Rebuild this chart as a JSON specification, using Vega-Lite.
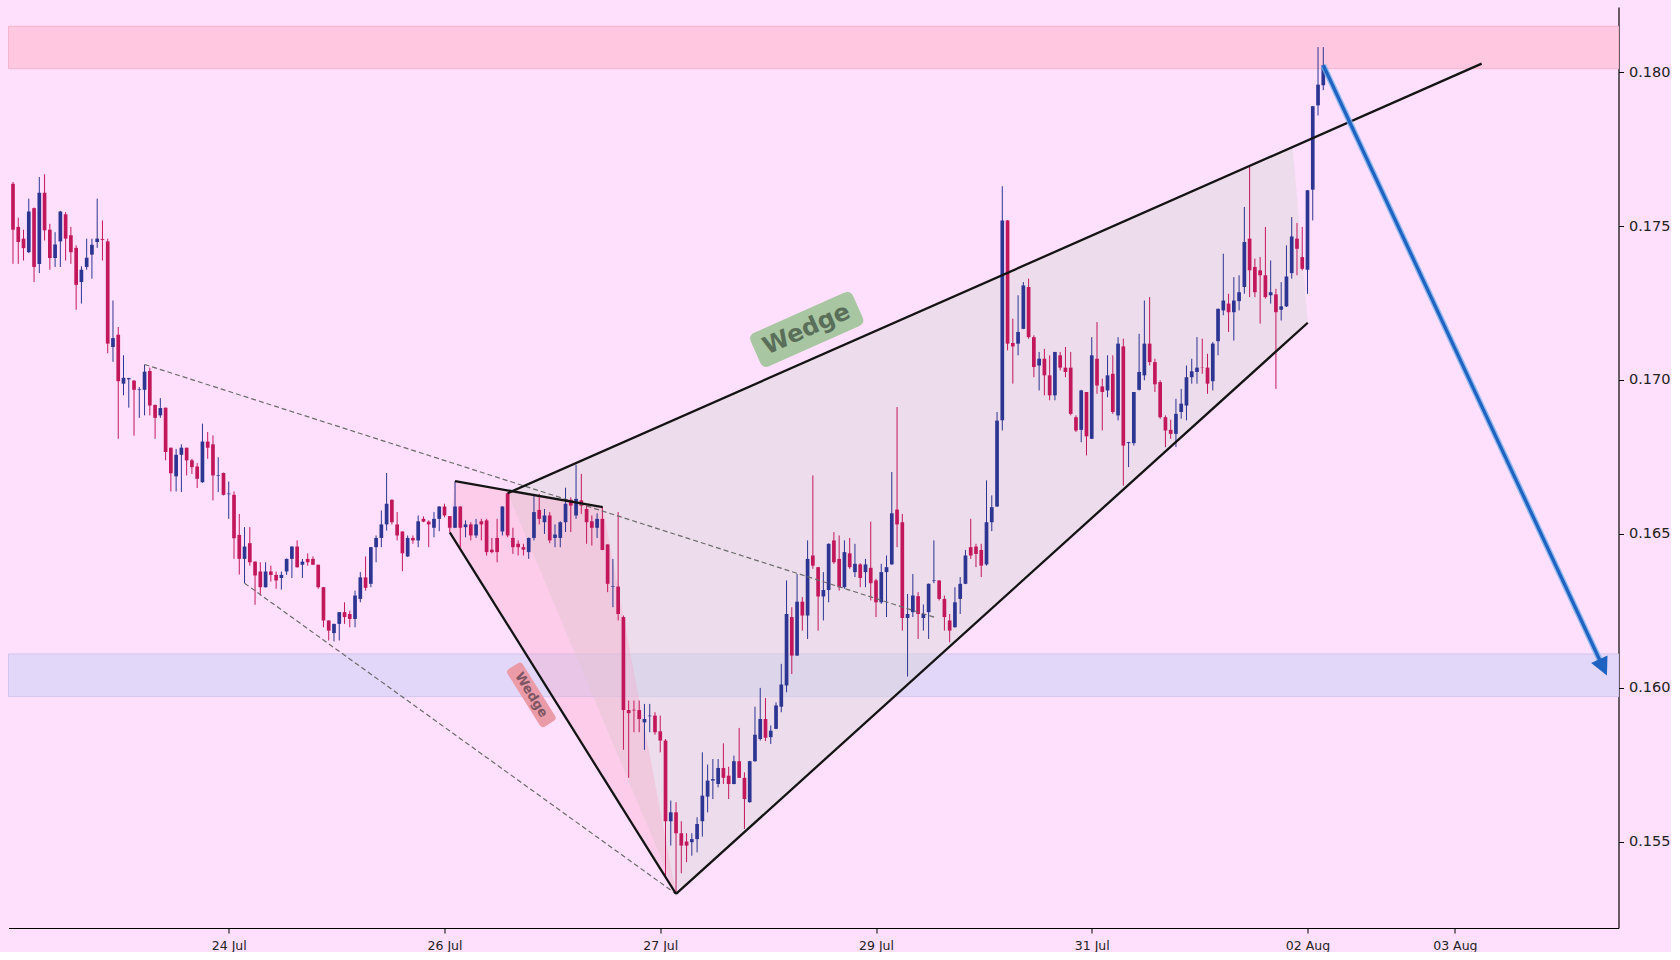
{
  "$schema": "https://vega.github.io/schema/vega-lite/v6.json",
  "width": 1610,
  "height": 921,
  "padding": {"left": 7.5, "top": 7, "right": 0, "bottom": 0},
  "background": "#ffe0fc",
  "config": {"view": {"stroke": null}},
  "datasets": {
    "candles": [
      {"i":0,"o":0.17637,"h":0.17643,"l":0.17377,"c":0.17488},
      {"i":1,"o":0.17497,"h":0.17527,"l":0.17377,"c":0.17448},
      {"i":2,"o":0.17459,"h":0.17488,"l":0.17388,"c":0.17428},
      {"i":3,"o":0.17415,"h":0.17589,"l":0.17412,"c":0.17547},
      {"i":4,"o":0.17558,"h":0.17560,"l":0.17318,"c":0.17367},
      {"i":5,"o":0.17377,"h":0.17659,"l":0.17347,"c":0.17608},
      {"i":6,"o":0.17608,"h":0.17668,"l":0.17453,"c":0.17486},
      {"i":7,"o":0.17488,"h":0.17507,"l":0.17358,"c":0.17396},
      {"i":8,"o":0.17396,"h":0.17480,"l":0.17367,"c":0.17440},
      {"i":9,"o":0.17450,"h":0.17549,"l":0.17367,"c":0.17547},
      {"i":10,"o":0.17538,"h":0.17545,"l":0.17388,"c":0.17459},
      {"i":11,"o":0.17470,"h":0.17497,"l":0.17377,"c":0.17415},
      {"i":12,"o":0.17429,"h":0.17437,"l":0.17228,"c":0.17309},
      {"i":13,"o":0.17318,"h":0.17369,"l":0.17248,"c":0.17358},
      {"i":14,"o":0.17367,"h":0.17459,"l":0.17358,"c":0.17397},
      {"i":15,"o":0.17407,"h":0.17459,"l":0.17329,"c":0.17439},
      {"i":16,"o":0.17448,"h":0.17589,"l":0.17429,"c":0.17459},
      {"i":17,"o":0.17458,"h":0.17518,"l":0.17388,"c":0.17455},
      {"i":18,"o":0.17450,"h":0.17459,"l":0.17087,"c":0.17118},
      {"i":19,"o":0.17107,"h":0.17258,"l":0.17059,"c":0.17136},
      {"i":20,"o":0.17147,"h":0.17172,"l":0.16809,"c":0.16996},
      {"i":21,"o":0.16988,"h":0.17080,"l":0.16950,"c":0.17007},
      {"i":22,"o":0.17002,"h":0.17007,"l":0.16910,"c":0.17006},
      {"i":23,"o":0.16998,"h":0.16999,"l":0.16819,"c":0.16968},
      {"i":24,"o":0.16968,"h":0.16977,"l":0.16877,"c":0.16970},
      {"i":25,"o":0.16968,"h":0.17050,"l":0.16885,"c":0.17027},
      {"i":26,"o":0.17029,"h":0.17040,"l":0.16885,"c":0.16917},
      {"i":27,"o":0.16919,"h":0.16920,"l":0.16809,"c":0.16877},
      {"i":28,"o":0.16885,"h":0.16941,"l":0.16877,"c":0.16909},
      {"i":29,"o":0.16910,"h":0.16910,"l":0.16739,"c":0.16766},
      {"i":30,"o":0.16780,"h":0.16780,"l":0.16638,"c":0.16697},
      {"i":31,"o":0.16687,"h":0.16776,"l":0.16638,"c":0.16757},
      {"i":32,"o":0.16757,"h":0.16791,"l":0.16636,"c":0.16780},
      {"i":33,"o":0.16780,"h":0.16780,"l":0.16690,"c":0.16739},
      {"i":34,"o":0.16739,"h":0.16744,"l":0.16695,"c":0.16717},
      {"i":35,"o":0.16719,"h":0.16730,"l":0.16649,"c":0.16679},
      {"i":36,"o":0.16668,"h":0.16858,"l":0.16666,"c":0.16800},
      {"i":37,"o":0.16800,"h":0.16831,"l":0.16744,"c":0.16780},
      {"i":38,"o":0.16791,"h":0.16820,"l":0.16609,"c":0.16690},
      {"i":39,"o":0.16689,"h":0.16749,"l":0.16636,"c":0.16691},
      {"i":40,"o":0.16698,"h":0.16699,"l":0.16625,"c":0.16627},
      {"i":41,"o":0.16629,"h":0.16670,"l":0.16549,"c":0.16631},
      {"i":42,"o":0.16627,"h":0.16638,"l":0.16419,"c":0.16486},
      {"i":43,"o":0.16497,"h":0.16565,"l":0.16368,"c":0.16419},
      {"i":44,"o":0.16419,"h":0.16522,"l":0.16340,"c":0.16459},
      {"i":45,"o":0.16470,"h":0.16522,"l":0.16397,"c":0.16408},
      {"i":46,"o":0.16410,"h":0.16411,"l":0.16270,"c":0.16365},
      {"i":47,"o":0.16378,"h":0.16408,"l":0.16300,"c":0.16327},
      {"i":48,"o":0.16327,"h":0.16408,"l":0.16326,"c":0.16378},
      {"i":49,"o":0.16378,"h":0.16397,"l":0.16345,"c":0.16367},
      {"i":50,"o":0.16367,"h":0.16378,"l":0.16322,"c":0.16349},
      {"i":51,"o":0.16357,"h":0.16378,"l":0.16319,"c":0.16367},
      {"i":52,"o":0.16378,"h":0.16420,"l":0.16367,"c":0.16419},
      {"i":53,"o":0.16419,"h":0.16460,"l":0.16357,"c":0.16459},
      {"i":54,"o":0.16459,"h":0.16479,"l":0.16390,"c":0.16392},
      {"i":55,"o":0.16400,"h":0.16419,"l":0.16357,"c":0.16410},
      {"i":56,"o":0.16419,"h":0.16437,"l":0.16397,"c":0.16408},
      {"i":57,"o":0.16419,"h":0.16427,"l":0.16399,"c":0.16400},
      {"i":58,"o":0.16400,"h":0.16400,"l":0.16322,"c":0.16327},
      {"i":59,"o":0.16327,"h":0.16327,"l":0.16197,"c":0.16219},
      {"i":60,"o":0.16219,"h":0.16219,"l":0.16154,"c":0.16186},
      {"i":61,"o":0.16178,"h":0.16208,"l":0.16151,"c":0.16208},
      {"i":62,"o":0.16208,"h":0.16246,"l":0.16154,"c":0.16246},
      {"i":63,"o":0.16246,"h":0.16278,"l":0.16208,"c":0.16230},
      {"i":64,"o":0.16240,"h":0.16251,"l":0.16197,"c":0.16224},
      {"i":65,"o":0.16224,"h":0.16316,"l":0.16197,"c":0.16300},
      {"i":66,"o":0.16289,"h":0.16376,"l":0.16278,"c":0.16359},
      {"i":67,"o":0.16359,"h":0.16427,"l":0.16316,"c":0.16325},
      {"i":68,"o":0.16338,"h":0.16458,"l":0.16327,"c":0.16457},
      {"i":69,"o":0.16457,"h":0.16495,"l":0.16408,"c":0.16487},
      {"i":70,"o":0.16487,"h":0.16576,"l":0.16457,"c":0.16531},
      {"i":71,"o":0.16531,"h":0.16698,"l":0.16511,"c":0.16598},
      {"i":72,"o":0.16611,"h":0.16612,"l":0.16531,"c":0.16538},
      {"i":73,"o":0.16531,"h":0.16571,"l":0.16479,"c":0.16495},
      {"i":74,"o":0.16508,"h":0.16508,"l":0.16379,"c":0.16437},
      {"i":75,"o":0.16427,"h":0.16495,"l":0.16425,"c":0.16487},
      {"i":76,"o":0.16487,"h":0.16495,"l":0.16468,"c":0.16479},
      {"i":77,"o":0.16479,"h":0.16560,"l":0.16457,"c":0.16541},
      {"i":78,"o":0.16549,"h":0.16557,"l":0.16538,"c":0.16540},
      {"i":79,"o":0.16540,"h":0.16544,"l":0.16457,"c":0.16531},
      {"i":80,"o":0.16520,"h":0.16571,"l":0.16489,"c":0.16549},
      {"i":81,"o":0.16549,"h":0.16590,"l":0.16509,"c":0.16589},
      {"i":82,"o":0.16589,"h":0.16598,"l":0.16554,"c":0.16560},
      {"i":83,"o":0.16558,"h":0.16558,"l":0.16506,"c":0.16520},
      {"i":84,"o":0.16520,"h":0.16671,"l":0.16519,"c":0.16589},
      {"i":85,"o":0.16589,"h":0.16590,"l":0.16457,"c":0.16520},
      {"i":86,"o":0.16522,"h":0.16544,"l":0.16489,"c":0.16531},
      {"i":87,"o":0.16531,"h":0.16538,"l":0.16479,"c":0.16495},
      {"i":88,"o":0.16495,"h":0.16549,"l":0.16487,"c":0.16531},
      {"i":89,"o":0.16541,"h":0.16549,"l":0.16479,"c":0.16531},
      {"i":90,"o":0.16544,"h":0.16549,"l":0.16430,"c":0.16441},
      {"i":91,"o":0.16449,"h":0.16487,"l":0.16437,"c":0.16441},
      {"i":92,"o":0.16487,"h":0.16549,"l":0.16408,"c":0.16441},
      {"i":93,"o":0.16508,"h":0.16590,"l":0.16495,"c":0.16589},
      {"i":94,"o":0.16632,"h":0.16633,"l":0.16489,"c":0.16495},
      {"i":95,"o":0.16487,"h":0.16520,"l":0.16435,"c":0.16457},
      {"i":96,"o":0.16468,"h":0.16479,"l":0.16430,"c":0.16457},
      {"i":97,"o":0.16457,"h":0.16468,"l":0.16430,"c":0.16449},
      {"i":98,"o":0.16441,"h":0.16488,"l":0.16419,"c":0.16487},
      {"i":99,"o":0.16487,"h":0.16630,"l":0.16479,"c":0.16571},
      {"i":100,"o":0.16578,"h":0.16630,"l":0.16531,"c":0.16549},
      {"i":101,"o":0.16538,"h":0.16581,"l":0.16500,"c":0.16560},
      {"i":102,"o":0.16560,"h":0.16571,"l":0.16470,"c":0.16479},
      {"i":103,"o":0.16487,"h":0.16531,"l":0.16457,"c":0.16498},
      {"i":104,"o":0.16487,"h":0.16541,"l":0.16457,"c":0.16538},
      {"i":105,"o":0.16538,"h":0.16650,"l":0.16506,"c":0.16598},
      {"i":106,"o":0.16611,"h":0.16619,"l":0.16506,"c":0.16592},
      {"i":107,"o":0.16560,"h":0.16725,"l":0.16549,"c":0.16614},
      {"i":108,"o":0.16609,"h":0.16695,"l":0.16565,"c":0.16592},
      {"i":109,"o":0.16581,"h":0.16592,"l":0.16468,"c":0.16538},
      {"i":110,"o":0.16541,"h":0.16560,"l":0.16462,"c":0.16520},
      {"i":111,"o":0.16520,"h":0.16567,"l":0.16487,"c":0.16549},
      {"i":112,"o":0.16549,"h":0.16587,"l":0.16447,"c":0.16448},
      {"i":113,"o":0.16466,"h":0.16466,"l":0.16311,"c":0.16338},
      {"i":114,"o":0.16328,"h":0.16419,"l":0.16262,"c":0.16330},
      {"i":115,"o":0.16329,"h":0.16571,"l":0.16219,"c":0.16240},
      {"i":116,"o":0.16230,"h":0.16235,"l":0.15799,"c":0.15928},
      {"i":117,"o":0.15928,"h":0.15959,"l":0.15708,"c":0.15918},
      {"i":118,"o":0.15929,"h":0.15959,"l":0.15856,"c":0.15927},
      {"i":119,"o":0.15928,"h":0.15959,"l":0.15856,"c":0.15899},
      {"i":120,"o":0.15888,"h":0.15948,"l":0.15799,"c":0.15899},
      {"i":121,"o":0.15908,"h":0.15948,"l":0.15856,"c":0.15910},
      {"i":122,"o":0.15910,"h":0.15921,"l":0.15848,"c":0.15856},
      {"i":123,"o":0.15859,"h":0.15910,"l":0.15791,"c":0.15829},
      {"i":124,"o":0.15829,"h":0.15834,"l":0.15385,"c":0.15567},
      {"i":125,"o":0.15567,"h":0.15634,"l":0.15488,"c":0.15596},
      {"i":126,"o":0.15596,"h":0.15629,"l":0.15331,"c":0.15528},
      {"i":127,"o":0.15528,"h":0.15567,"l":0.15398,"c":0.15488},
      {"i":128,"o":0.15501,"h":0.15528,"l":0.15434,"c":0.15488},
      {"i":129,"o":0.15499,"h":0.15528,"l":0.15455,"c":0.15509},
      {"i":130,"o":0.15509,"h":0.15580,"l":0.15466,"c":0.15558},
      {"i":131,"o":0.15567,"h":0.15791,"l":0.15517,"c":0.15650},
      {"i":132,"o":0.15647,"h":0.15751,"l":0.15596,"c":0.15699},
      {"i":133,"o":0.15699,"h":0.15769,"l":0.15639,"c":0.15704},
      {"i":134,"o":0.15688,"h":0.15769,"l":0.15677,"c":0.15740},
      {"i":135,"o":0.15740,"h":0.15820,"l":0.15688,"c":0.15708},
      {"i":136,"o":0.15715,"h":0.15744,"l":0.15639,"c":0.15688},
      {"i":137,"o":0.15688,"h":0.15780,"l":0.15687,"c":0.15762},
      {"i":138,"o":0.15762,"h":0.15870,"l":0.15707,"c":0.15708},
      {"i":139,"o":0.15708,"h":0.15726,"l":0.15542,"c":0.15639},
      {"i":140,"o":0.15629,"h":0.15763,"l":0.15627,"c":0.15762},
      {"i":141,"o":0.15762,"h":0.15939,"l":0.15760,"c":0.15848},
      {"i":142,"o":0.15834,"h":0.16000,"l":0.15829,"c":0.15899},
      {"i":143,"o":0.15899,"h":0.15967,"l":0.15827,"c":0.15838},
      {"i":144,"o":0.15840,"h":0.15878,"l":0.15818,"c":0.15861},
      {"i":145,"o":0.15867,"h":0.15953,"l":0.15866,"c":0.15943},
      {"i":146,"o":0.15939,"h":0.16078,"l":0.15921,"c":0.16011},
      {"i":147,"o":0.16008,"h":0.16349,"l":0.15986,"c":0.16240},
      {"i":148,"o":0.16230,"h":0.16262,"l":0.16045,"c":0.16105},
      {"i":149,"o":0.16105,"h":0.16370,"l":0.16104,"c":0.16280},
      {"i":150,"o":0.16280,"h":0.16295,"l":0.16186,"c":0.16235},
      {"i":151,"o":0.16235,"h":0.16479,"l":0.16159,"c":0.16419},
      {"i":152,"o":0.16430,"h":0.16690,"l":0.16387,"c":0.16397},
      {"i":153,"o":0.16392,"h":0.16393,"l":0.16186,"c":0.16297},
      {"i":154,"o":0.16297,"h":0.16376,"l":0.16219,"c":0.16318},
      {"i":155,"o":0.16318,"h":0.16469,"l":0.16278,"c":0.16468},
      {"i":156,"o":0.16479,"h":0.16506,"l":0.16403,"c":0.16408},
      {"i":157,"o":0.16419,"h":0.16495,"l":0.16316,"c":0.16327},
      {"i":158,"o":0.16327,"h":0.16479,"l":0.16322,"c":0.16441},
      {"i":159,"o":0.16437,"h":0.16487,"l":0.16387,"c":0.16392},
      {"i":160,"o":0.16376,"h":0.16468,"l":0.16360,"c":0.16403},
      {"i":161,"o":0.16401,"h":0.16405,"l":0.16327,"c":0.16357},
      {"i":162,"o":0.16376,"h":0.16419,"l":0.16327,"c":0.16401},
      {"i":163,"o":0.16390,"h":0.16540,"l":0.16284,"c":0.16340},
      {"i":164,"o":0.16349,"h":0.16354,"l":0.16230,"c":0.16278},
      {"i":165,"o":0.16278,"h":0.16403,"l":0.16273,"c":0.16376},
      {"i":166,"o":0.16376,"h":0.16430,"l":0.16230,"c":0.16392},
      {"i":167,"o":0.16401,"h":0.16701,"l":0.16400,"c":0.16567},
      {"i":168,"o":0.16579,"h":0.16912,"l":0.16457,"c":0.16531},
      {"i":169,"o":0.16538,"h":0.16565,"l":0.16186,"c":0.16227},
      {"i":170,"o":0.16227,"h":0.16305,"l":0.16037,"c":0.16240},
      {"i":171,"o":0.16246,"h":0.16370,"l":0.16230,"c":0.16300},
      {"i":172,"o":0.16298,"h":0.16311,"l":0.16159,"c":0.16240},
      {"i":173,"o":0.16227,"h":0.16271,"l":0.16186,"c":0.16240},
      {"i":174,"o":0.16246,"h":0.16339,"l":0.16159,"c":0.16338},
      {"i":175,"o":0.16347,"h":0.16479,"l":0.16340,"c":0.16349},
      {"i":176,"o":0.16349,"h":0.16349,"l":0.16284,"c":0.16289},
      {"i":177,"o":0.16289,"h":0.16300,"l":0.16186,"c":0.16230},
      {"i":178,"o":0.16219,"h":0.16240,"l":0.16148,"c":0.16186},
      {"i":179,"o":0.16197,"h":0.16327,"l":0.16196,"c":0.16278},
      {"i":180,"o":0.16289,"h":0.16360,"l":0.16240,"c":0.16338},
      {"i":181,"o":0.16338,"h":0.16448,"l":0.16337,"c":0.16430},
      {"i":182,"o":0.16457,"h":0.16549,"l":0.16419,"c":0.16430},
      {"i":183,"o":0.16459,"h":0.16468,"l":0.16392,"c":0.16435},
      {"i":184,"o":0.16448,"h":0.16468,"l":0.16360,"c":0.16397},
      {"i":185,"o":0.16401,"h":0.16674,"l":0.16397,"c":0.16538},
      {"i":186,"o":0.16538,"h":0.16625,"l":0.16509,"c":0.16587},
      {"i":187,"o":0.16589,"h":0.16896,"l":0.16588,"c":0.16868},
      {"i":188,"o":0.16869,"h":0.17629,"l":0.16836,"c":0.17518},
      {"i":189,"o":0.17518,"h":0.17519,"l":0.17096,"c":0.17118},
      {"i":190,"o":0.17120,"h":0.17199,"l":0.16988,"c":0.17109},
      {"i":191,"o":0.17118,"h":0.17275,"l":0.17080,"c":0.17156},
      {"i":192,"o":0.17166,"h":0.17318,"l":0.17165,"c":0.17307},
      {"i":193,"o":0.17302,"h":0.17329,"l":0.17134,"c":0.17139},
      {"i":194,"o":0.17139,"h":0.17145,"l":0.17009,"c":0.17042},
      {"i":195,"o":0.17047,"h":0.17091,"l":0.16966,"c":0.17069},
      {"i":196,"o":0.17069,"h":0.17101,"l":0.16950,"c":0.17015},
      {"i":197,"o":0.17015,"h":0.17080,"l":0.16934,"c":0.16950},
      {"i":198,"o":0.16950,"h":0.17091,"l":0.16934,"c":0.17091},
      {"i":199,"o":0.17080,"h":0.17091,"l":0.17031,"c":0.17040},
      {"i":200,"o":0.17040,"h":0.17107,"l":0.17009,"c":0.17026},
      {"i":201,"o":0.17040,"h":0.17091,"l":0.16885,"c":0.16890},
      {"i":202,"o":0.16879,"h":0.16885,"l":0.16831,"c":0.16836},
      {"i":203,"o":0.16838,"h":0.16968,"l":0.16798,"c":0.16966},
      {"i":204,"o":0.16961,"h":0.16961,"l":0.16755,"c":0.16817},
      {"i":205,"o":0.16809,"h":0.17139,"l":0.16808,"c":0.17080},
      {"i":206,"o":0.17069,"h":0.17188,"l":0.16955,"c":0.16982},
      {"i":207,"o":0.16979,"h":0.17004,"l":0.16836,"c":0.16961},
      {"i":208,"o":0.16966,"h":0.17080,"l":0.16944,"c":0.17015},
      {"i":209,"o":0.17020,"h":0.17080,"l":0.16890,"c":0.16896},
      {"i":210,"o":0.16885,"h":0.17139,"l":0.16869,"c":0.17118},
      {"i":211,"o":0.17109,"h":0.17134,"l":0.16657,"c":0.16787},
      {"i":212,"o":0.16795,"h":0.16799,"l":0.16717,"c":0.16798},
      {"i":213,"o":0.16795,"h":0.16961,"l":0.16787,"c":0.16961},
      {"i":214,"o":0.16968,"h":0.17150,"l":0.16966,"c":0.17026},
      {"i":215,"o":0.17015,"h":0.17258,"l":0.16999,"c":0.17118},
      {"i":216,"o":0.17118,"h":0.17269,"l":0.17047,"c":0.17058},
      {"i":217,"o":0.17058,"h":0.17069,"l":0.16961,"c":0.16986},
      {"i":218,"o":0.16993,"h":0.16999,"l":0.16874,"c":0.16879},
      {"i":219,"o":0.16879,"h":0.16885,"l":0.16782,"c":0.16836},
      {"i":220,"o":0.16838,"h":0.16871,"l":0.16809,"c":0.16825},
      {"i":221,"o":0.16825,"h":0.16939,"l":0.16782,"c":0.16890},
      {"i":222,"o":0.16896,"h":0.16971,"l":0.16874,"c":0.16923},
      {"i":223,"o":0.16917,"h":0.17047,"l":0.16869,"c":0.17009},
      {"i":224,"o":0.17009,"h":0.17069,"l":0.16988,"c":0.17028},
      {"i":225,"o":0.17026,"h":0.17139,"l":0.16988,"c":0.17040},
      {"i":226,"o":0.17040,"h":0.17134,"l":0.17020,"c":0.17039},
      {"i":227,"o":0.17040,"h":0.17085,"l":0.16955,"c":0.16988},
      {"i":228,"o":0.16996,"h":0.17123,"l":0.16966,"c":0.17118},
      {"i":229,"o":0.17126,"h":0.17232,"l":0.17080,"c":0.17231},
      {"i":230,"o":0.17226,"h":0.17410,"l":0.17210,"c":0.17258},
      {"i":231,"o":0.17248,"h":0.17280,"l":0.17156,"c":0.17220},
      {"i":232,"o":0.17220,"h":0.17334,"l":0.17128,"c":0.17258},
      {"i":233,"o":0.17256,"h":0.17340,"l":0.17226,"c":0.17285},
      {"i":234,"o":0.17302,"h":0.17562,"l":0.17280,"c":0.17448},
      {"i":235,"o":0.17459,"h":0.17692,"l":0.17269,"c":0.17356},
      {"i":236,"o":0.17367,"h":0.17394,"l":0.17269,"c":0.17285},
      {"i":237,"o":0.17356,"h":0.17399,"l":0.17183,"c":0.17340},
      {"i":238,"o":0.17340,"h":0.17497,"l":0.17264,"c":0.17269},
      {"i":239,"o":0.17275,"h":0.17388,"l":0.17248,"c":0.17285},
      {"i":240,"o":0.17278,"h":0.17296,"l":0.16971,"c":0.17220},
      {"i":241,"o":0.17228,"h":0.17318,"l":0.17193,"c":0.17239},
      {"i":242,"o":0.17239,"h":0.17437,"l":0.17237,"c":0.17336},
      {"i":243,"o":0.17347,"h":0.17529,"l":0.17329,"c":0.17466},
      {"i":244,"o":0.17459,"h":0.17510,"l":0.17340,"c":0.17426},
      {"i":245,"o":0.17399,"h":0.17497,"l":0.17356,"c":0.17361},
      {"i":246,"o":0.17358,"h":0.17617,"l":0.17280,"c":0.17616},
      {"i":247,"o":0.17618,"h":0.17890,"l":0.17518,"c":0.17889},
      {"i":248,"o":0.17892,"h":0.18081,"l":0.17859,"c":0.17959},
      {"i":249,"o":0.17957,"h":0.18081,"l":0.17941,"c":0.18022}
    ]
  },
  "layer": [
    {
      "data": {"values": [{"lo": 0.18011, "hi": 0.181485}]},
      "mark": {"type": "rect", "fill": "#ffc8e0", "stroke": "#f5b4cc", "strokeWidth": 1},
      "encoding": {
        "x": {"datum": -0.855, "type": "quantitative", "title": null, "scale": {"domain": [-0.855, 305.1], "nice": false, "zero": false, "padding": 0},
          "axis": {"values": [41, 82, 123, 164, 205, 246, 274], "labelExpr": "datum.value == 41 ? '24 Jul' : datum.value == 82 ? '26 Jul' : datum.value == 123 ? '27 Jul' : datum.value == 164 ? '29 Jul' : datum.value == 205 ? '31 Jul' : datum.value == 246 ? '02 Aug' : '03 Aug'", "grid": false, "domainColor": "#000000", "domainWidth": 1.2, "tickColor": "#000000", "tickSize": 5, "tickWidth": 1, "labelFont": "DejaVu Sans", "labelFontSize": 12.5, "labelColor": "#222222", "labelPadding": 6, "labelFlush": false, "labelOverlap": false}},
        "x2": {"datum": 305.1},
        "y": {"field": "lo", "type": "quantitative", "title": null, "scale": {"domain": [0.152203, 0.182112], "nice": false, "zero": false, "padding": 0},
          "axis": {"orient": "right", "values": [0.155, 0.16, 0.165, 0.17, 0.175, 0.18], "format": ".3f", "grid": false, "domainColor": "#000000", "domainWidth": 1.2, "tickColor": "#000000", "tickSize": 5, "tickWidth": 1, "labelFont": "DejaVu Sans", "labelFontSize": 14.5, "labelColor": "#222222", "labelPadding": 5}},
        "y2": {"field": "hi"}
      }
    },
    {
      "data": {"values": [{"lo": 0.159717, "hi": 0.161104}]},
      "mark": {"type": "rect", "fill": "#e2d6f9", "stroke": "#d2c6ef", "strokeWidth": 1},
      "encoding": {
        "x": {"datum": -0.855, "type": "quantitative", "title": null, "scale": {"domain": [-0.855, 305.1], "nice": false, "zero": false, "padding": 0}},
        "x2": {"datum": 305.1},
        "y": {"field": "lo", "type": "quantitative", "title": null, "scale": {"domain": [0.152203, 0.182112], "nice": false, "zero": false, "padding": 0}},
        "y2": {"field": "hi"}
      }
    },
    {
      "data": {"values": [
        {"i": 94, "a": 0.166322, "b": 0.166322},
        {"i": 126, "a": 0.168734, "b": 0.15331},
        {"i": 243.2, "a": 0.177567, "b": 0.171417},
        {"i": 246.05, "a": 0.171858, "b": 0.171858}
      ]},
      "mark": {"type": "area", "color": "#d6d6d6", "opacity": 0.45, "interpolate": "linear"},
      "encoding": {
        "x": {"field": "i", "type": "quantitative", "title": null, "scale": {"domain": [-0.855, 305.1], "nice": false, "zero": false, "padding": 0}},
        "y": {"field": "a", "type": "quantitative", "title": null, "scale": {"domain": [0.152203, 0.182112], "nice": false, "zero": false, "padding": 0}},
        "y2": {"field": "b"}
      }
    },
    {
      "data": {"values": [
        {"i": 83, "a": 0.16505, "b": 0.16505},
        {"i": 84, "a": 0.166713, "b": 0.164777},
        {"i": 112.07, "a": 0.165868, "b": 0.157114},
        {"i": 126, "a": 0.15331, "b": 0.15331}
      ]},
      "mark": {"type": "area", "color": "#f7a6c8", "opacity": 0.35, "interpolate": "linear"},
      "encoding": {
        "x": {"field": "i", "type": "quantitative", "title": null, "scale": {"domain": [-0.855, 305.1], "nice": false, "zero": false, "padding": 0}},
        "y": {"field": "a", "type": "quantitative", "title": null, "scale": {"domain": [0.152203, 0.182112], "nice": false, "zero": false, "padding": 0}},
        "y2": {"field": "b"}
      }
    },
    {
      "data": {"name": "candles"},
      "mark": {"type": "rule", "strokeWidth": 1},
      "encoding": {
        "x": {"field": "i", "type": "quantitative", "title": null, "scale": {"domain": [-0.855, 305.1], "nice": false, "zero": false, "padding": 0}},
        "y": {"field": "l", "type": "quantitative", "title": null, "scale": {"domain": [0.152203, 0.182112], "nice": false, "zero": false, "padding": 0}},
        "y2": {"field": "h"},
        "color": {"condition": {"test": "datum.c >= datum.o", "value": "#2c3592"}, "value": "#c2185b"}
      }
    },
    {
      "data": {"name": "candles"},
      "mark": {"type": "bar", "size": 3.7},
      "encoding": {
        "x": {"field": "i", "type": "quantitative", "title": null, "scale": {"domain": [-0.855, 305.1], "nice": false, "zero": false, "padding": 0}},
        "y": {"field": "o", "type": "quantitative", "title": null, "scale": {"domain": [0.152203, 0.182112], "nice": false, "zero": false, "padding": 0}},
        "y2": {"field": "c"},
        "color": {"condition": {"test": "datum.c >= datum.o", "value": "#2c3592"}, "value": "#c2185b"}
      }
    },
    {
      "data": {"values": [
        {"id": "d1", "i": 25, "p": 0.170504},
        {"id": "d1", "i": 175.09, "p": 0.162294},
        {"id": "d2", "i": 44, "p": 0.1634},
        {"id": "d2", "i": 126, "p": 0.15331}
      ]},
      "mark": {"type": "line", "color": "#6b6b6b", "strokeWidth": 1.2, "strokeDash": [5, 3]},
      "encoding": {
        "x": {"field": "i", "type": "quantitative", "title": null, "scale": {"domain": [-0.855, 305.1], "nice": false, "zero": false, "padding": 0}},
        "y": {"field": "p", "type": "quantitative", "title": null, "scale": {"domain": [0.152203, 0.182112], "nice": false, "zero": false, "padding": 0}},
        "detail": {"field": "id"}
      }
    },
    {
      "data": {"values": [
        {"id": "su", "i": 84, "p": 0.166713},
        {"id": "su", "i": 112.07, "p": 0.165868},
        {"id": "sl", "i": 83, "p": 0.16505},
        {"id": "sl", "i": 126, "p": 0.15331},
        {"id": "bu", "i": 94, "p": 0.166322},
        {"id": "bu", "i": 279.1, "p": 0.180273},
        {"id": "bl", "i": 126, "p": 0.15331},
        {"id": "bl", "i": 246.05, "p": 0.171858}
      ]},
      "mark": {"type": "line", "color": "#141414", "strokeWidth": 2.3},
      "encoding": {
        "x": {"field": "i", "type": "quantitative", "title": null, "scale": {"domain": [-0.855, 305.1], "nice": false, "zero": false, "padding": 0}},
        "y": {"field": "p", "type": "quantitative", "title": null, "scale": {"domain": [0.152203, 0.182112], "nice": false, "zero": false, "padding": 0}},
        "detail": {"field": "id"}
      }
    },
    {
      "data": {"values": [
        {"i": 249, "p": 0.18022},
        {"i": 302.1, "p": 0.160694}
      ]},
      "mark": {"type": "line", "color": "#78aeea", "strokeWidth": 6, "opacity": 0.8},
      "encoding": {
        "x": {"field": "i", "type": "quantitative", "title": null, "scale": {"domain": [-0.855, 305.1], "nice": false, "zero": false, "padding": 0}},
        "y": {"field": "p", "type": "quantitative", "title": null, "scale": {"domain": [0.152203, 0.182112], "nice": false, "zero": false, "padding": 0}}
      }
    },
    {
      "data": {"values": [
        {"i": 249, "p": 0.18022},
        {"i": 302.1, "p": 0.160694}
      ]},
      "mark": {"type": "line", "color": "#1f63c2", "strokeWidth": 3.2},
      "encoding": {
        "x": {"field": "i", "type": "quantitative", "title": null, "scale": {"domain": [-0.855, 305.1], "nice": false, "zero": false, "padding": 0}},
        "y": {"field": "p", "type": "quantitative", "title": null, "scale": {"domain": [0.152203, 0.182112], "nice": false, "zero": false, "padding": 0}}
      }
    },
    {
      "data": {"values": [{"i": 302.9, "p": 0.160399}]},
      "mark": {"type": "point", "shape": "M0,0 L-0.5,-1 L0.5,-1 Z", "size": 1300, "angle": 335.07, "filled": true, "color": "#1f63c2", "opacity": 1},
      "encoding": {
        "x": {"field": "i", "type": "quantitative", "title": null, "scale": {"domain": [-0.855, 305.1], "nice": false, "zero": false, "padding": 0}},
        "y": {"field": "p", "type": "quantitative", "title": null, "scale": {"domain": [0.152203, 0.182112], "nice": false, "zero": false, "padding": 0}}
      }
    },
    {
      "data": {"values": [{"i": 150.84, "p": 0.171641, "label": "Wedge"}]},
      "mark": {"type": "point", "shape": "M-0.873,-0.327 L0.873,-0.327 Q1,-0.327 1,-0.2 L1,0.2 Q1,0.327 0.873,0.327 L-0.873,0.327 Q-1,0.327 -1,0.2 L-1,-0.2 Q-1,-0.327 -0.873,-0.327 Z", "size": 12544, "angle": 336, "filled": true, "color": "#a7c6a1", "opacity": 1},
      "encoding": {
        "x": {"field": "i", "type": "quantitative", "title": null, "scale": {"domain": [-0.855, 305.1], "nice": false, "zero": false, "padding": 0}},
        "y": {"field": "p", "type": "quantitative", "title": null, "scale": {"domain": [0.152203, 0.182112], "nice": false, "zero": false, "padding": 0}}
      }
    },
    {
      "data": {"values": [{"i": 150.84, "p": 0.171641, "label": "Wedge"}]},
      "mark": {"type": "text", "angle": 336, "font": "DejaVu Sans", "fontWeight": "bold", "fontSize": 24, "color": "#5a6f5a", "align": "center", "baseline": "middle"},
      "encoding": {
        "x": {"field": "i", "type": "quantitative", "title": null, "scale": {"domain": [-0.855, 305.1], "nice": false, "zero": false, "padding": 0}},
        "y": {"field": "p", "type": "quantitative", "title": null, "scale": {"domain": [0.152203, 0.182112], "nice": false, "zero": false, "padding": 0}},
        "text": {"field": "label"}
      }
    },
    {
      "data": {"values": [{"i": 98.5, "p": 0.159773, "label": "Wedge"}]},
      "mark": {"type": "point", "shape": "M-0.882,-0.265 L0.882,-0.265 Q1,-0.265 1,-0.147 L1,0.147 Q1,0.265 0.882,0.265 L-0.882,0.265 Q-1,0.265 -1,0.147 L-1,-0.147 Q-1,-0.265 -0.882,-0.265 Z", "size": 4624, "angle": 58, "filled": true, "color": "#eb9ba8", "opacity": 1},
      "encoding": {
        "x": {"field": "i", "type": "quantitative", "title": null, "scale": {"domain": [-0.855, 305.1], "nice": false, "zero": false, "padding": 0}},
        "y": {"field": "p", "type": "quantitative", "title": null, "scale": {"domain": [0.152203, 0.182112], "nice": false, "zero": false, "padding": 0}}
      }
    },
    {
      "data": {"values": [{"i": 98.5, "p": 0.159773, "label": "Wedge"}]},
      "mark": {"type": "text", "angle": 58, "font": "DejaVu Sans", "fontWeight": "bold", "fontSize": 13, "color": "#7d5563", "align": "center", "baseline": "middle"},
      "encoding": {
        "x": {"field": "i", "type": "quantitative", "title": null, "scale": {"domain": [-0.855, 305.1], "nice": false, "zero": false, "padding": 0}},
        "y": {"field": "p", "type": "quantitative", "title": null, "scale": {"domain": [0.152203, 0.182112], "nice": false, "zero": false, "padding": 0}},
        "text": {"field": "label"}
      }
    }
  ]
}
